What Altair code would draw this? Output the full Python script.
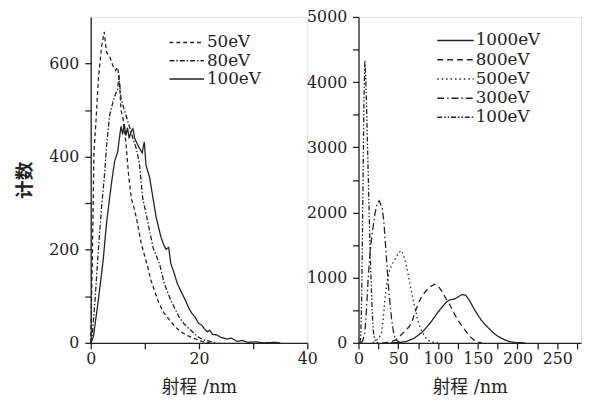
import altair as alt
import pandas as pd

# ---------------- left panel data (range in nm, counts) ----------------
l_series = ["50eV", "80eV", "100eV"]

l50_x = [0, 0.3, 0.6, 1.0, 1.4, 2.0, 2.5, 2.9, 3.5, 4.1, 4.6, 5.0, 5.3, 5.6, 6.0, 6.5, 7.0, 7.5, 8.0, 8.5,
         9.3, 10.0, 10.5, 11.1, 12.0, 12.6, 13.5, 14.5, 15.5, 16.6, 18.0, 19.0, 20.0, 21.0, 22.0]
l50_y = [0, 180, 410, 480, 565, 635, 668, 625, 615, 595, 585, 592, 560, 500, 480, 430, 360, 310, 290, 265,
         215, 185, 165, 135, 105, 85, 65, 50, 36, 24, 15, 10, 5, 2, 0]

l80_x = [0, 0.2, 0.8, 1.4, 2.0, 2.6, 2.9, 3.5, 4.1, 4.6, 5.0, 5.2, 5.6, 6.2, 6.9, 7.8, 8.4, 9.0, 9.6, 10.5,
         11.5, 12.7, 13.6, 14.8, 16.3, 17.3, 18.4, 19.3, 20.2, 21.0, 22.0, 23.0]
l80_y = [0, 6, 91, 198, 290, 368, 420, 489, 517, 535, 545, 575, 525, 500, 474, 439, 418, 385, 311, 262,
         205, 170, 127, 91, 56, 40, 28, 18, 10, 6, 3, 0]

l100_x = [0, 0.5, 1.4, 2.3, 2.9, 3.8, 4.4, 5.0, 5.3, 5.6, 5.9, 6.2, 6.5, 6.8, 7.1, 7.5, 7.8, 8.1, 8.4, 9.0,
          9.5, 9.9, 10.2, 10.5, 10.9, 11.5, 12.1, 12.6, 13.0, 13.5, 13.9, 14.4, 14.8, 15.4, 16.0, 16.7,
          17.5, 18.1, 18.7, 19.3, 19.9, 20.5, 21.0, 21.5, 22.0, 22.5, 23.3, 24.0, 25.1, 26.0, 27.0, 28.0,
          29.0, 30.5, 32.0, 34.0, 35.0]
l100_y = [0, 13, 91, 177, 255, 340, 389, 411, 440, 465, 448, 470, 445, 462, 439, 455, 460, 440, 432, 418,
          408, 432, 382, 370, 354, 311, 269, 245, 226, 210, 201, 205, 170, 150, 127, 110,
          91, 75, 63, 55, 42, 38, 30, 24, 27, 18, 17, 12, 8, 10, 3, 5,
          1, 2, 0, 1, 0]

# ---------------- right panel data ----------------
r_series = ["1000eV", "800eV", "500eV", "300eV", "100eV"]

r1000_x = [40, 50, 60, 70, 80, 90, 100, 110, 115, 120, 125, 130, 135, 140, 145, 150, 155, 160, 165, 170,
           175, 180, 185, 190, 195, 200, 210]
r1000_y = [0, 5, 20, 70, 160, 300, 470, 620, 660, 670, 700, 740, 730, 640, 530, 430, 340, 270, 210, 150,
           105, 70, 40, 20, 8, 2, 0]

r800_x = [30, 40, 47, 52, 56, 60, 64, 68, 72, 76, 80, 85, 90, 96, 100, 105, 110, 115, 120, 125, 130, 135,
          140, 145, 150, 155]
r800_y = [0, 10, 45, 100, 150, 200, 250, 350, 500, 620, 720, 800, 860, 900, 875, 790, 680, 580, 460, 350,
          260, 180, 100, 45, 12, 0]

r500_x = [18, 22, 26, 29, 31, 33, 36, 39, 42, 45, 48, 51, 54, 57, 60, 64, 68, 72, 76, 80, 85, 90, 95, 100]
r500_y = [0, 30, 80, 150, 350, 650, 950, 1110, 1200, 1260, 1330, 1390, 1415, 1330, 1200, 950, 700, 480,
          280, 170, 70, 20, 5, 0]

r300_x = [3, 5, 8, 10, 12, 14, 16, 18, 20, 22, 24, 26, 28, 30, 32, 34, 36, 38, 40, 42, 44, 46, 48, 52, 56]
r300_y = [0, 20, 150, 500, 950, 1300, 1550, 1750, 1930, 2060, 2150, 2180, 2120, 2050, 1850, 1500, 1150,
          820, 560, 330, 170, 80, 35, 8, 0]

r100_x = [2, 3, 4, 5, 6, 7, 8, 9, 10, 11, 12, 13, 14, 15, 16, 17, 18, 19, 20, 22, 25]
r100_y = [0, 150, 700, 1700, 2800, 3800, 4330, 4100, 3700, 3200, 2700, 2200, 1700, 1250, 900, 550, 300,
          150, 60, 10, 0]

INK = "#222222"
SERIF = "DejaVu Serif, Noto Sans CJK SC"
CJK = "Noto Sans CJK SC"


def long_df(names, xs, ys):
    rows = []
    for n, xv, yv in zip(names, xs, ys):
        for a, b in zip(xv, yv):
            rows.append({"series": n, "x": a, "y": b})
    return pd.DataFrame(rows)


left_df = long_df(l_series, [l50_x, l80_x, l100_x], [l50_y, l80_y, l100_y])
right_df = long_df(r_series, [r1000_x, r800_x, r500_x, r300_x, r100_x],
                   [r1000_y, r800_y, r500_y, r300_y, r100_y])

l_dash = [[4, 3], [5, 2, 1.5, 2], [1, 0]]
r_dash = [[1, 0], [6, 4], [1.5, 3], [7, 3, 1.5, 3], [5, 2, 1.5, 2, 1.5, 2]]


def axis(values, step, **kw):
    base = dict(values=values, format="d", labelFlush=False, labelOverlap=False,
                labelExpr=f"datum.value % {step} == 0 ? datum.label : ''",
                tickSize=6, tickColor=INK, tickWidth=1.3, domainColor=INK, domainWidth=1.3,
                labelFont="DejaVu Serif", labelFontSize=16, labelColor=INK, grid=False,
                titleColor=INK)
    base.update(kw)
    return alt.Axis(**base)


def legend_layers(labels, dashes, x0, x1, xt, y0, dy):
    layers = []
    for i, (lab, d) in enumerate(zip(labels, dashes)):
        yy = y0 + i * dy
        df = pd.DataFrame({"label": [lab]})
        layers.append(alt.Chart(df).mark_rule(color=INK, strokeWidth=1.5, strokeDash=d).encode(
            x=alt.value(x0), x2=alt.value(x1), y=alt.value(yy)))
        layers.append(alt.Chart(df).mark_text(align="left", baseline="middle", font="DejaVu Serif",
                                              fontSize=17, color=INK).encode(
            x=alt.value(xt), y=alt.value(yy), text="label:N"))
    return layers


left_lines = alt.Chart(left_df).mark_line(color=INK, strokeWidth=1.3).encode(
    x=alt.X("x:Q", scale=alt.Scale(domain=[0, 40], nice=False),
            axis=axis([0, 10, 20, 30, 40], 20, labelPadding=2, title="射程 /nm",
                      titleFont=SERIF, titleFontSize=18, titleFontWeight="normal", titlePadding=12)),
    y=alt.Y("y:Q", scale=alt.Scale(domain=[0, 700], nice=False),
            axis=axis(list(range(0, 601, 100)), 200, labelPadding=6, title="计数",
                      titleFont=CJK, titleFontSize=19, titleFontWeight="bold", titlePadding=15)),
    strokeDash=alt.StrokeDash("series:N", scale=alt.Scale(domain=l_series, range=l_dash), legend=None),
)

left = alt.layer(left_lines, *legend_layers(l_series, l_dash, 80, 115, 118, 26, 18.5)).properties(
    width=220, height=331)

right_lines = alt.Chart(right_df).mark_line(color=INK, strokeWidth=1.3).encode(
    x=alt.X("x:Q", scale=alt.Scale(domain=[0, 280], nice=False),
            axis=axis(list(range(0, 276, 25)), 50, labelPadding=2, title="射程 /nm",
                      titleFont=SERIF, titleFontSize=18, titleFontWeight="normal", titlePadding=12)),
    y=alt.Y("y:Q", scale=alt.Scale(domain=[0, 5000], nice=False),
            axis=axis(list(range(0, 5001, 500)), 1000, labelPadding=6, title=None)),
    strokeDash=alt.StrokeDash("series:N", scale=alt.Scale(domain=r_series, range=r_dash), legend=None),
)

right = alt.layer(right_lines, *legend_layers(r_series, r_dash, 80, 117, 119, 24, 19.5)).properties(
    width=226, height=331)

chart = alt.hconcat(left, right, spacing=52, bounds="flush").resolve_scale(
    strokeDash="independent"
).properties(
    padding={"left": 6, "top": -3, "right": 0, "bottom": 0}
).configure_view(stroke=None).configure(background="white")

chart.save("out.html", embed_options={"renderer": "svg", "actions": False})
